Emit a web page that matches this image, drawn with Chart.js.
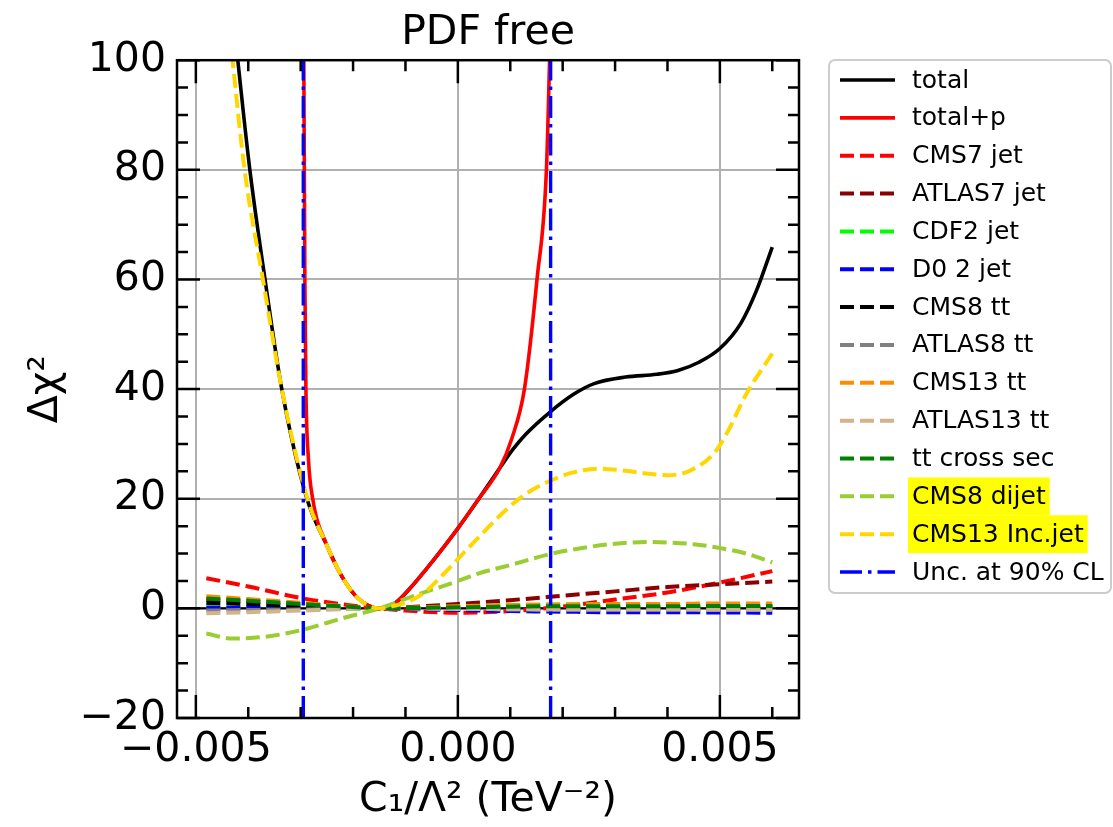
<!DOCTYPE html>
<html lang="en">
<head>
<meta charset="UTF-8" />
<title>PDF free</title>
<script src="https://cdn.jsdelivr.net/npm/chart.js"></script>
<style>
  * { margin: 0; padding: 0; box-sizing: border-box; }
  body { background: #ffffff; width: 1113px; height: 827px; overflow: hidden; }
  #wrap { position: relative; width: 1113px; height: 827px; }
</style>
</head>
<body>
<div id="wrap"><canvas id="chi2Chart" width="1113" height="827"></canvas></div>
<script>
  const FONT = "'DejaVu Sans', sans-serif";

  // axes
  const xTicks = [-0.005, 0, 0.005];
  const yTicks = [-20, 0, 20, 40, 60, 80, 100];
  const xLimits = [-0.00536, 0.00651];
  const yLimits = [-20, 100];

  // total
  const xTotal = [-0.0044, -0.0042, -0.00397, -0.00368, -0.00336, -0.00288, -0.0025, -0.0022, -0.0019, -0.0015,
    -0.0012, -0.0009, -0.0006, -0.0003, 0, 0.0004, 0.0008, 0.00105, 0.0013, 0.00177, 0.0022, 0.0026, 0.0032,
    0.0038, 0.0042, 0.0046, 0.005, 0.0054, 0.0057, 0.006];
  const totalVals = [118, 100, 80, 60, 40, 20, 11.5, 5.6, 1.8, 0, 0.95, 3.8, 7.2, 10.8, 14.6, 20.0, 25.6, 29.0,
    31.8, 35.9, 39.0, 41.0, 42.2, 42.7, 43.4, 44.9, 47.4, 52.0, 58.0, 65.9];

  // total+p
  const xTotalP = [-0.00295, -0.00294, -0.00293, -0.00292, -0.0029, -0.00285, -0.00277, -0.0025, -0.0022, -0.0019,
    -0.0015, -0.0012, -0.0009, -0.0006, -0.0003, 0, 0.0004, 0.0008, 0.00103, 0.00127, 0.00151, 0.00169, 0.00175, 0.00178];
  const totalPVals = [115, 100, 80, 60, 40, 27, 20, 11.5, 5.6, 1.8, 0, 0.95, 3.8, 7.2, 10.8, 14.6, 20.0, 25.6,
    31, 40, 60, 80, 100, 112];

  // CMS13 Inc.jet
  const xIncJet = [-0.00443, -0.0043, -0.00407, -0.00372, -0.00336, -0.00287, -0.0025, -0.0022, -0.0019, -0.0015,
    -0.0012, -0.0009, -0.0006, -0.0003, 0, 0.0004, 0.0009, 0.0013, 0.0017, 0.0022, 0.0027, 0.0032, 0.0037, 0.004,
    0.0044, 0.00488, 0.00513, 0.00551, 0.006];
  const incJetVals = [112, 100, 80, 60, 40, 20, 11.5, 5.6, 1.8, 0, 0.5, 1.4, 3.2, 6.0, 9.0, 13.0, 17.8, 20.9, 23.0,
    24.8, 25.5, 25.1, 24.5, 24.3, 25.0, 28.2, 31.9, 39.2, 46.5];

  // CMS8 dijet
  const xDijet = [-0.0048, -0.0043, -0.0037, -0.003, -0.0022, -0.0015, -0.0008, 0, 0.0004, 0.001, 0.0018, 0.0025,
    0.003, 0.0036, 0.0045, 0.005, 0.0055, 0.006];
  const dijetVals = [-4.6, -5.5, -5.2, -4.0, -1.8, 0, 2.4, 5.0, 6.4, 7.9, 10.0, 11.2, 11.8, 12.1, 11.7, 11.0, 10.0, 8.4];

  // small contributions
  const xSmall = [-0.0048, -0.004, -0.003, -0.002, -0.0015, -0.001, 0, 0.001, 0.002, 0.003, 0.004, 0.005, 0.006];
  const cms7Jet   = [5.5, 4.0, 1.9, 0.5, 0, -0.4, -0.8, -0.5, 0.35, 1.6, 2.9, 4.7, 6.8];
  const atlas7Jet = [1.6, 1.3, 0.8, 0.3, 0, 0.2, 0.8, 1.5, 2.3, 3.1, 3.9, 4.4, 4.9];
  const cdf2Jet   = [0.2, 0.15, 0.1, 0.05, 0, 0.05, 0.3, 0.6, 0.7, 0.7, 0.6, 0.55, 0.5];
  const d0Jet     = [0.1, 0.1, 0.05, 0, 0, -0.1, -0.3, -0.5, -0.6, -0.7, -0.7, -0.75, -0.8];
  const cms8tt    = [1.0, 0.8, 0.4, 0.1, 0, 0, 0.1, 0.15, 0.2, 0.2, 0.2, 0.2, 0.2];
  const atlas8tt  = [-0.4, -0.3, -0.2, -0.05, 0, 0, -0.1, -0.15, -0.2, -0.2, -0.2, -0.2, -0.2];
  const cms13tt   = [2.2, 1.7, 1.0, 0.3, 0, 0.1, 0.4, 0.6, 0.7, 0.8, 0.8, 0.9, 0.9];
  const atlas13tt = [-0.9, -0.7, -0.4, -0.1, 0, 0, -0.1, -0.15, -0.2, -0.2, -0.2, -0.25, -0.25];
  const ttCross   = [1.8, 1.4, 0.8, 0.25, 0, 0.05, 0.2, 0.3, 0.4, 0.4, 0.4, 0.45, 0.45];

  // 90% CL bounds
  const uncBounds = [-0.00295, 0.00177];

  const highlighted = ['CMS8 dijet', 'CMS13 Inc.jet'];

  const DASH = [14, 6];
  const DASHDOT = [22, 6, 3.5, 6];

  const pts = (xs, ys) => xs.map((x, i) => ({ x: x, y: ys[i] }));

  function line(label, xs, ys, color, dashed) {
    return {
      label: label,
      data: pts(xs, ys),
      borderColor: color,
      borderWidth: dashed ? 4 : 3.6,
      borderDash: dashed ? DASH : [],
      pointRadius: 0,
      fill: false,
      cubicInterpolationMode: 'monotone',
      clip: 0
    };
  }

  // two vertical lines in one dataset, split by a null point
  const uncData = [];
  uncBounds.forEach((b, i) => {
    if (i > 0) uncData.push({ x: b, y: null });
    uncData.push({ x: b, y: yLimits[0] }, { x: b, y: yLimits[1] });
  });

  const datasets = [
    line('total', xTotal, totalVals, '#000000', false),
    line('total+p', xTotalP, totalPVals, '#ff0000', false),
    line('CMS7 jet', xSmall, cms7Jet, '#ff0000', true),
    line('ATLAS7 jet', xSmall, atlas7Jet, '#8b0000', true),
    line('CDF2 jet', xSmall, cdf2Jet, '#00ff00', true),
    line('D0 2 jet', xSmall, d0Jet, '#0000ff', true),
    line('CMS8 tt', xSmall, cms8tt, '#000000', true),
    line('ATLAS8 tt', xSmall, atlas8tt, '#808080', true),
    line('CMS13 tt', xSmall, cms13tt, '#ff8c00', true),
    line('ATLAS13 tt', xSmall, atlas13tt, '#d2b48c', true),
    line('tt cross sec', xSmall, ttCross, '#008000', true),
    line('CMS8 dijet', xDijet, dijetVals, '#9acd32', true),
    line('CMS13 Inc.jet', xIncJet, incJetVals, '#ffd700', true),
    {
      label: 'Unc. at 90% CL',
      data: uncData,
      borderColor: '#0000ff',
      borderWidth: 3.4,
      borderDash: DASHDOT,
      pointRadius: 0,
      tension: 0,
      spanGaps: false,
      clip: 0
    }
  ];
  // later series drawn on top, like the original plot
  datasets.forEach((d, i) => { d.order = -i; });

  const fmtMinus = (s) => s.replace('-', '\u2212');

  // frame: zero line, spines, inward ticks, legend
  const framePlugin = {
    id: 'frame',
    beforeDatasetsDraw(chart) {
      const { ctx, chartArea: a, scales: { y } } = chart;
      const py = y.getPixelForValue(0);
      ctx.save();
      ctx.strokeStyle = '#000';
      ctx.lineWidth = 2.4;
      ctx.beginPath();
      ctx.moveTo(a.left, py);
      ctx.lineTo(a.right, py);
      ctx.stroke();
      ctx.restore();
    },
    afterDatasetsDraw(chart) {
      const { ctx, chartArea: a, scales: { x, y } } = chart;
      ctx.save();
      ctx.strokeStyle = '#000';
      ctx.lineWidth = 2.5;
      ctx.setLineDash([]);
      ctx.strokeRect(a.left, a.top, a.right - a.left, a.bottom - a.top);

      const majorLen = 23, minorLen = 11;
      ctx.beginPath();
      for (let k = Math.ceil(xLimits[0] / 0.001); k <= Math.floor(xLimits[1] / 0.001); k++) {
        const v = k * 0.001;
        const len = xTicks.some(t => Math.abs(t - v) < 1e-9) ? majorLen : minorLen;
        const px = x.getPixelForValue(v);
        ctx.moveTo(px, a.bottom); ctx.lineTo(px, a.bottom - len);
        ctx.moveTo(px, a.top); ctx.lineTo(px, a.top + len);
      }
      for (let v = yLimits[0]; v <= yLimits[1]; v += 5) {
        const len = yTicks.includes(v) ? majorLen : minorLen;
        const py = y.getPixelForValue(v);
        ctx.moveTo(a.left, py); ctx.lineTo(a.left + len, py);
        ctx.moveTo(a.right, py); ctx.lineTo(a.right - len, py);
      }
      ctx.stroke();
      ctx.restore();
    },
    afterDraw(chart) {
      const { ctx } = chart;
      const box = { x: 829, y: 60, w: 282, h: 533, first: 80, row: 37.85 };
      ctx.save();
      ctx.beginPath();
      ctx.roundRect(box.x, box.y, box.w, box.h, 6);
      ctx.fillStyle = 'rgba(255,255,255,0.8)';
      ctx.fill();
      ctx.strokeStyle = '#cccccc';
      ctx.lineWidth = 2;
      ctx.stroke();

      ctx.font = '25px ' + FONT;
      ctx.textBaseline = 'middle';
      chart.data.datasets.forEach((d, i) => {
        const cy = box.first + i * box.row;
        if (highlighted.includes(d.label)) {
          const w = ctx.measureText(d.label).width;
          ctx.fillStyle = '#ffff00';
          ctx.fillRect(908, cy - box.row / 2, w + 8, box.row);
        }
        ctx.beginPath();
        ctx.setLineDash(d.borderDash || []);
        ctx.lineWidth = d.borderWidth;
        ctx.strokeStyle = d.borderColor;
        ctx.moveTo(840, cy);
        ctx.lineTo(895, cy);
        ctx.stroke();
        ctx.setLineDash([]);
        ctx.fillStyle = '#000';
        ctx.fillText(d.label, 912, cy + 1);
      });
      ctx.restore();
    }
  };

  new Chart(document.getElementById('chi2Chart'), {
    type: 'line',
    data: { datasets: datasets },
    plugins: [framePlugin],
    options: {
      responsive: false,
      animation: false,
      devicePixelRatio: 1,
      layout: { padding: { left: 0, right: 314, top: 0, bottom: 0 } },
      plugins: {
        legend: { display: false },
        tooltip: { enabled: false },
        title: {
          display: true,
          text: 'PDF free',
          fullSize: false,
          color: '#000',
          font: { family: FONT, size: 41, weight: 'normal', lineHeight: 1.2 },
          padding: { top: 9, bottom: 2 }
        }
      },
      scales: {
        x: {
          type: 'linear',
          min: xLimits[0],
          max: xLimits[1],
          afterBuildTicks: (s) => { s.ticks = xTicks.map(v => ({ value: v })); },
          afterFit: (s) => { s.height = 109; },
          border: { display: false },
          grid: { color: '#b0b0b0', lineWidth: 2, drawTicks: false },
          ticks: {
            autoSkip: false,
            maxRotation: 0,
            color: '#000',
            padding: 8,
            font: { family: FONT, size: 41 },
            callback: (v) => fmtMinus(Number(v).toFixed(3))
          },
          title: {
            display: true,
            text: 'C\u2081/\u039B\u00B2 (TeV\u207B\u00B2)',
            color: '#000',
            font: { family: FONT, size: 41 },
            padding: { top: 0, bottom: 2 }
          }
        },
        y: {
          min: yLimits[0],
          max: yLimits[1],
          afterBuildTicks: (s) => { s.ticks = yTicks.map(v => ({ value: v })); },
          afterFit: (s) => { s.width = 177; },
          border: { display: false },
          grid: { color: '#b0b0b0', lineWidth: 2, drawTicks: false },
          ticks: {
            color: '#000',
            padding: 11,
            font: { family: FONT, size: 41 },
            callback: (v) => fmtMinus(String(v))
          },
          title: {
            display: true,
            text: '\u0394\u03C7\u00B2',
            color: '#000',
            font: { family: FONT, size: 41 },
            padding: { top: 22, bottom: 0 }
          }
        }
      }
    }
  });
</script>
</body>
</html>
